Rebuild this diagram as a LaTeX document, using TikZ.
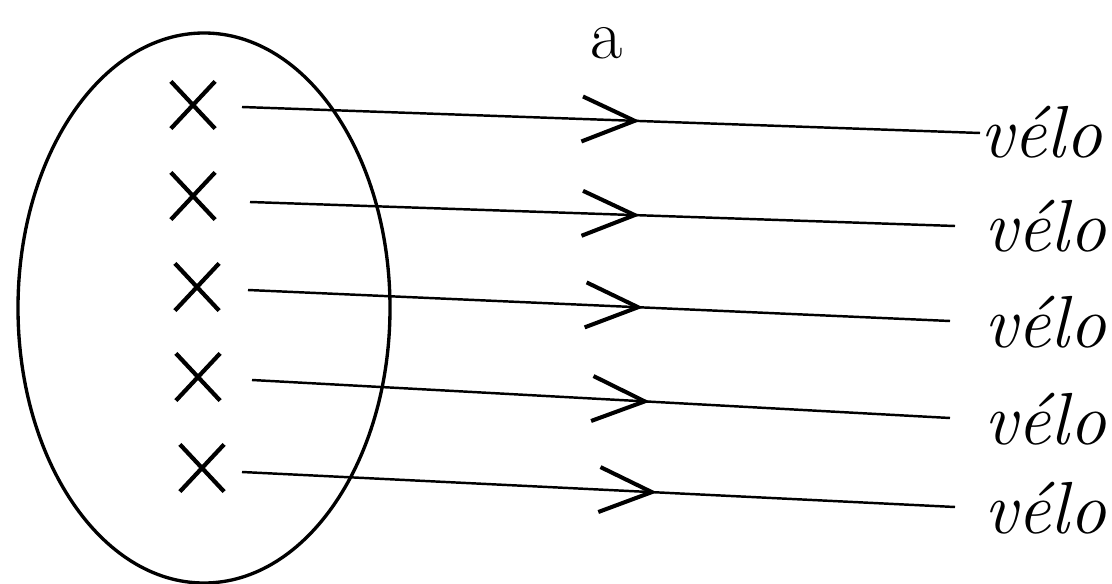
\documentclass[tikz,border=0pt]{standalone}
\usepackage{tikz}
\usetikzlibrary{shapes.misc,arrows.meta,decorations.markings}
\tikzset{
  nd_pt/.style={cross out,draw=black,line width=2.4pt,minimum width=0.8cm,minimum height=0.86cm,inner sep=0pt},
  nd_word/.style={anchor=base west,inner sep=0pt,font=\fontsize{42}{48}\selectfont\itshape},
  nd_lbl/.style={inner sep=0pt,font=\fontsize{40}{46}\selectfont},
  lnk/.style={line width=1.4pt,postaction={decorate},decoration={markings,mark=at position #1 with {\arrow{Straight Barb[length=1.05cm,width=0.9cm,line width=2.3pt]}}}},
  lnk/.default=0.55,
}

\begin{document}
\begin{tikzpicture}[x=0.02cm,y=-0.02cm]
\useasboundingbox (0,0) rectangle (1112,584);
% the set
\draw[line width=1.9pt] (204,308) ellipse [x radius=186,y radius=275];
% elements
\foreach \x/\y/\n in {193/105/p1,193/196/p2,197/287/p3,198/377/p4,202/468/p5}{\node[nd_pt] (\n) at (\x,\y) {};}
% images
\foreach \x/\y/\n in {980/158/w1,984/252/w2,984/347/w3,984/444/w4,984/533/w5}{\node[nd_word] (\n) at (\x,\y) {vélo};}
\node[nd_lbl] (lbl) at (607,43) {a};
% arrows
\foreach \i/\sx/\sy/\ex/\ey/\p in {1/242/107/980/133/0.539,2/250/202/955/226/0.553,3/248/290/950/321/0.563,4/252/380/950/418/0.570,5/242/472/955/507/0.582}{
  \coordinate (s\i) at (\sx,\sy);\coordinate (e\i) at (\ex,\ey);
  \draw[lnk=\p](s\i)--(e\i);}
\end{tikzpicture}
\end{document}
